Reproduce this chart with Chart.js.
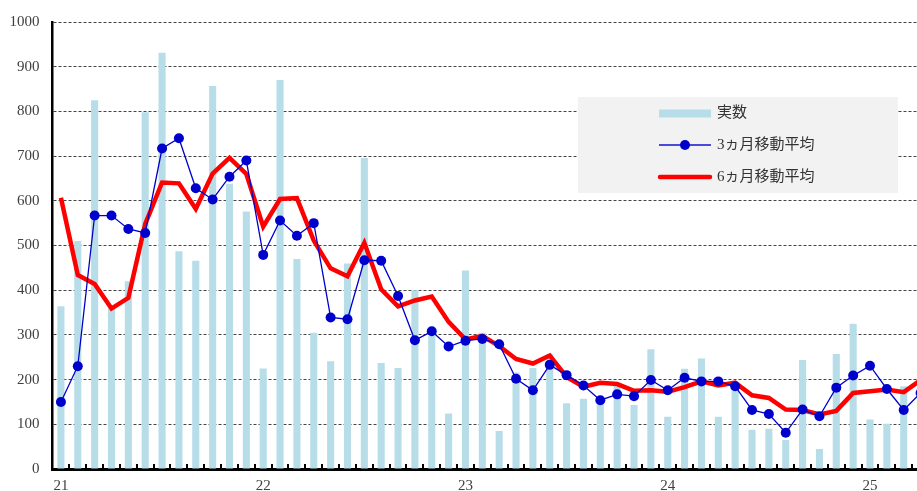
<!DOCTYPE html>
<html>
<head>
<meta charset="utf-8">
<script src="https://cdn.jsdelivr.net/npm/chart.js@4.4.1/dist/chart.umd.min.js"></script>
<style>
  html, body { margin: 0; padding: 0; background: #fff; overflow: hidden; }
  #wrap { position: absolute; left: 0; top: 0; width: 934px; height: 503px; }
</style>
</head>
<body>
<div id="wrap"><canvas id="mainChart" width="934" height="503"></canvas></div>
<script>
// months 2021/01 .. 2025/04 (the last one sits just past the right edge)
var months = [
  '21/01','21/02','21/03','21/04','21/05','21/06','21/07','21/08','21/09','21/10','21/11','21/12',
  '22/01','22/02','22/03','22/04','22/05','22/06','22/07','22/08','22/09','22/10','22/11','22/12',
  '23/01','23/02','23/03','23/04','23/05','23/06','23/07','23/08','23/09','23/10','23/11','23/12',
  '24/01','24/02','24/03','24/04','24/05','24/06','24/07','24/08','24/09','24/10','24/11','24/12',
  '25/01','25/02','25/03','25/04'
];
var yearTicks = ['21', '22', '23', '24', '25'];

var actual = [
  364, 510, 825, 366, 420, 798, 931, 487, 466, 857, 638, 576,
  225, 870, 470, 305, 241, 460, 696, 237, 226, 400, 298, 124,
  444, 305,  85, 216, 226, 257, 147, 157, 158, 186, 143, 268,
  117, 224, 247, 117, 191,  88,  90,  65, 244,  45, 257, 325,
  111, 101, 185, 224
];
var avg3 = [
  150, 230, 567, 567, 537, 528, 717, 740, 628, 603, 654, 690,
  479, 556, 522, 550, 339, 335, 467, 466, 387, 288, 308, 274,
  287, 291, 279, 202, 176, 233, 210, 187, 154, 167, 163, 199,
  176, 204, 196, 196, 185, 132, 123,  81, 133, 118, 182, 209,
  231, 179, 132, 170
];
var avg6 = [
  607, 434, 414, 359, 383, 548, 641, 639, 582, 661, 696, 660,
  542, 604, 606, 511, 449, 431, 506, 402, 364, 377, 386, 329,
  290, 298, 275, 246, 236, 254, 206, 184, 193, 190, 175, 176,
  173, 183, 196, 187, 193, 165, 159, 133, 132, 122, 130, 170,
  174, 178, 172, 199
];

var legendNames = ['実数', '3ヵ月移動平均', '6ヵ月移動平均'];

var serif = '"Liberation Serif", "Noto Sans CJK JP", serif';

// small inward tick marks on the x axis, between the months
var innerTicks = {
  id: 'innerTicks',
  afterDraw: function(chart) {
    var xs = chart.scales.x, ys = chart.scales.y, ctx = chart.ctx;
    var half = (xs.getPixelForValue(1) - xs.getPixelForValue(0)) / 2;
    ctx.save();
    ctx.strokeStyle = '#000';
    ctx.lineWidth = 2;
    ctx.beginPath();
    for (var i = 0; i < months.length; i++) {
      var px = Math.round(xs.getPixelForValue(i) + half);
      ctx.moveTo(px, ys.bottom);
      ctx.lineTo(px, ys.bottom - 5);
    }
    ctx.stroke();
    ctx.restore();
  }
};

// boxed legend drawn inside the plot, like the original
var boxLegend = {
  id: 'boxLegend',
  afterDatasetsDraw: function(chart) {
    var ctx = chart.ctx;
    var ds = chart.data.datasets;
    var bx = 578, by = 97, bw = 320, bh = 96;
    ctx.save();
    ctx.fillStyle = '#f2f2f2';
    ctx.fillRect(bx, by, bw, bh);

    var sx1 = 659, sx2 = 711, tx = 717;
    var rows = [113.5, 145, 177];

    // bar swatch
    ctx.fillStyle = ds[2].backgroundColor;
    ctx.fillRect(sx1, rows[0] - 4, sx2 - sx1, 8);

    // 3 month line + marker
    ctx.strokeStyle = '#4a4ad8';
    ctx.lineWidth = 2;
    ctx.beginPath();
    ctx.moveTo(sx1, rows[1]);
    ctx.lineTo(sx2, rows[1]);
    ctx.stroke();
    ctx.fillStyle = ds[0].pointBackgroundColor;
    ctx.beginPath();
    ctx.arc((sx1 + sx2) / 2, rows[1], 5, 0, Math.PI * 2);
    ctx.fill();

    // 6 month line
    ctx.strokeStyle = ds[1].borderColor;
    ctx.lineWidth = 4.5;
    ctx.lineCap = 'round';
    ctx.beginPath();
    ctx.moveTo(sx1 + 1, rows[2]);
    ctx.lineTo(sx2 - 1, rows[2]);
    ctx.stroke();

    ctx.fillStyle = '#333';
    ctx.font = '15px ' + serif;
    ctx.textBaseline = 'middle';
    ctx.textAlign = 'left';
    ctx.fillText(legendNames[0], tx, rows[0]);
    ctx.fillText(legendNames[1], tx, rows[1]);
    ctx.fillText(legendNames[2], tx, rows[2]);
    ctx.restore();
  }
};

var ctx = document.getElementById('mainChart').getContext('2d');
var mainChart = new Chart(ctx, {
  data: {
    labels: months,
    datasets: [
      {
        type: 'line',
        label: legendNames[1],
        data: avg3,
        borderColor: '#0000cc',
        borderWidth: 1.3,
        pointRadius: 5,
        pointBackgroundColor: '#0000cc',
        pointBorderWidth: 0,
        tension: 0,
        order: 0
      },
      {
        type: 'line',
        label: legendNames[2],
        data: avg6,
        borderColor: '#ff0000',
        borderWidth: 4.5,
        pointRadius: 0,
        tension: 0,
        order: 1
      },
      {
        type: 'bar',
        label: legendNames[0],
        data: actual,
        backgroundColor: '#b7dde8',
        barPercentage: 0.42,
        categoryPercentage: 1,
        order: 2
      }
    ]
  },
  options: {
    responsive: false,
    animation: false,
    layout: { padding: { top: 21, right: 2, left: 0, bottom: 0 } },
    plugins: {
      legend: { display: false },
      tooltip: { enabled: false }
    },
    scales: {
      x: {
        offset: true,
        grid: { display: false, drawTicks: false },
        border: { display: true, color: '#000', width: 3 },
        ticks: {
          autoSkip: false,
          maxRotation: 0,
          padding: 8,
          color: '#404040',
          font: { family: serif, size: 15 },
          callback: function(value, index) {
            return index % 12 === 0 ? yearTicks[index / 12] : '';
          }
        }
      },
      y: {
        min: 0,
        max: 1000,
        afterFit: function(scale) { scale.width = 52.5; },
        grid: { color: '#444', lineWidth: 1, drawTicks: false },
        border: { display: true, color: '#000', width: 2.5, dash: [3, 2] },
        ticks: {
          stepSize: 100,
          padding: 13,
          color: '#404040',
          font: { family: serif, size: 15 },
          callback: function(value) { return String(value); }
        }
      }
    }
  },
  plugins: [innerTicks, boxLegend]
});
</script>
</body>
</html>
